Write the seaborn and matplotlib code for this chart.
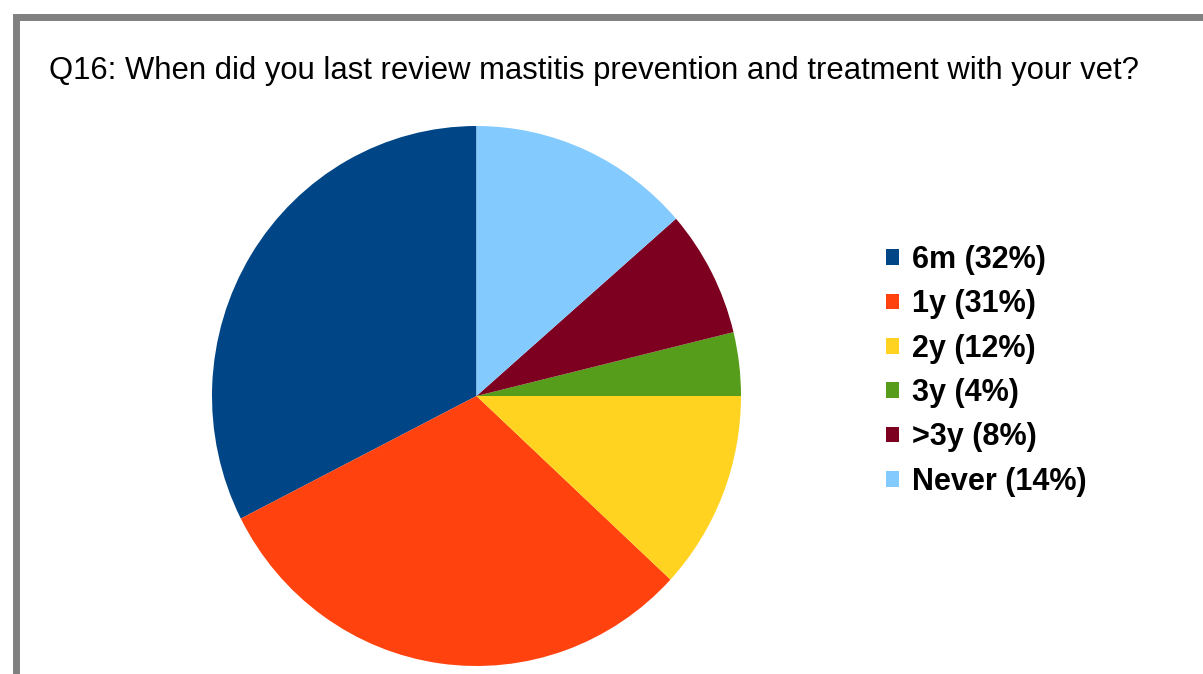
import matplotlib
matplotlib.use("Agg")
import matplotlib.pyplot as plt
import seaborn as sns
from matplotlib.patches import Rectangle

sns.set_theme(style="white")
plt.rcParams["font.family"] = ["Liberation Sans", "DejaVu Sans"]

# share of answers
categories = ["6m", "1y", "2y", "3y", ">3y", "Never"]
shares = [32.5, 30.6, 11.9, 3.8, 7.6, 13.6]
labels_pct = [32, 31, 12, 4, 8, 14]
colors = ["#004586", "#ff420e", "#ffd320", "#579d1c", "#7e0021", "#83caff"]

W, H = 1203, 674
fig = plt.figure(figsize=(W / 100, H / 100), dpi=100)
fig.patch.set_facecolor("white")

# grey frame, cut off at right and bottom
frame = Rectangle((15.5 / W, -0.2), 1.5, (H - 16.5) / H + 0.2,
                  transform=fig.transFigure, fill=False,
                  edgecolor="#808080", linewidth=5.0)
fig.add_artist(frame)

fig.text(49 / W, 1 - 71 / H, "Q16: When did you last review mastitis prevention and treatment with your vet?",
         fontsize=22.3, color="black", va="center", ha="left")

# pie axes placed in pixels
ax = fig.add_axes([212 / W, (H - 666) / H, 529 / W, 540 / H])
wedges, _ = ax.pie(shares, colors=colors, startangle=90, counterclock=True,
                   wedgeprops=dict(linewidth=0))
ax.set_xlim(-1, 1)
ax.set_ylim(-1, 1)
ax.set_aspect("auto")
ax.axis("off")

leg_labels = [f"{c} ({p}%)" for c, p in zip(categories, labels_pct)]
leg = fig.legend(wedges, leg_labels, loc="upper left",
                 bbox_to_anchor=(886 / W, 1 - 245 / H), frameon=False,
                 prop=dict(weight="bold", size=22), handlelength=0.41,
                 handleheight=0.41, handletextpad=0.44, labelspacing=0.47,
                 borderpad=0, borderaxespad=0, labelcolor="black")

fig.savefig("out.png", dpi=100)
